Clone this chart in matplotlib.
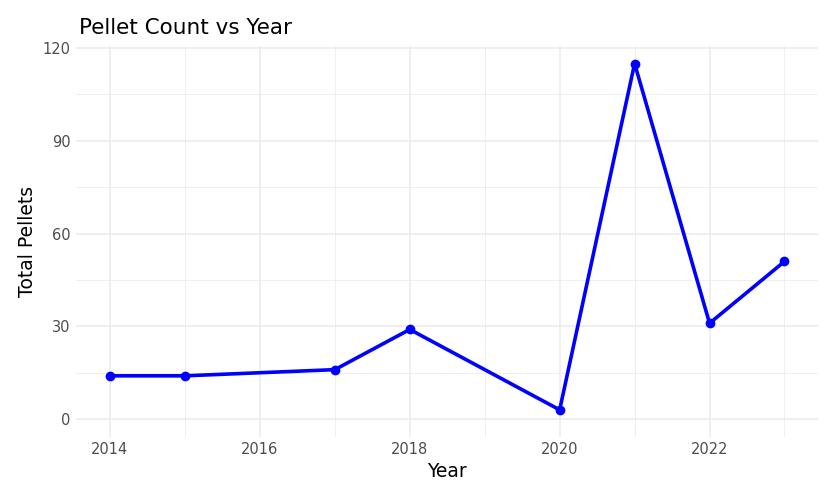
import matplotlib
matplotlib.use('Agg')
import matplotlib.pyplot as plt
from matplotlib.ticker import MultipleLocator

years = [2014, 2015, 2017, 2018, 2020, 2021, 2022, 2023]
pellets = [14, 14, 16, 29, 3, 115, 31, 51]

fig = plt.figure(figsize=(8.29, 4.92), dpi=100)
ax = fig.add_axes([0.092, 0.112, 0.895, 0.795])

ax.plot(years, pellets, color='#0000FF', linewidth=2.6, marker='o', markersize=6, zorder=3)

ax.set_xlim(2013.55, 2023.45)
ax.set_ylim(-5.75, 120.75)
ax.xaxis.set_major_locator(MultipleLocator(2))
ax.xaxis.set_minor_locator(MultipleLocator(1))
ax.yaxis.set_major_locator(MultipleLocator(30))
ax.yaxis.set_minor_locator(MultipleLocator(15))
ax.grid(which='major', color='#EBEBEB', linewidth=1.1)
ax.grid(which='minor', color='#EBEBEB', linewidth=0.55)
ax.set_axisbelow(True)
for s in ax.spines.values():
    s.set_visible(False)
ax.tick_params(which='both', length=0, labelsize=10.5, labelcolor='#4D4D4D', pad=4)

ax.set_xlabel('Year', fontsize=13.5, labelpad=3)
ax.set_ylabel('Total Pellets', fontsize=13.5)
fig.text(0.095, 0.93, 'Pellet Count vs Year', fontsize=15.5)

fig.savefig('out.png', dpi=100)
